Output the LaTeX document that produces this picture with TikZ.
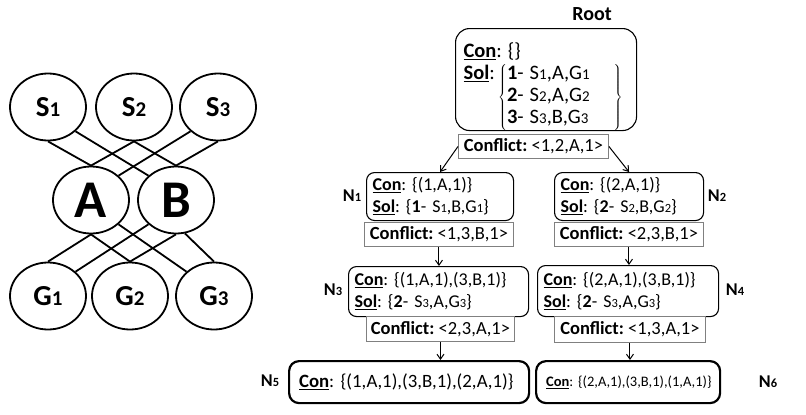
\documentclass[tikz,border=0pt]{standalone}
\usepackage{fontspec}
\setmainfont{Carlito}
\usetikzlibrary{shapes.geometric,arrows.meta}
\newcommand\sn[1]{{\fontsize{12.5}{12}\selectfont #1}}
\newcommand\snr[1]{{\fontsize{15}{12}\selectfont #1}}
\newcommand\sng[1]{{\fontsize{21}{20}\selectfont #1}}
\newcommand\kw[1]{\underline{\textbf{#1}}}
\begin{document}
\frenchspacing
\begin{tikzpicture}[x=1pt,y=-1pt,
  ell/.style={draw, ellipse, line width=1.8pt, minimum width=76pt, minimum height=67pt, inner sep=0pt, font=\fontsize{29}{29}\selectfont\bfseries},
  big/.style={font=\fontsize{53}{53}\selectfont\bfseries},
  link/.style={line width=1.8pt},
  tbox/.style={draw, rounded corners=8pt, line width=1.1pt, align=left, inner xsep=6pt, inner ysep=0pt, anchor=north west, font=\fontsize{18}{22}\selectfont},
  fbox/.style={tbox, line width=2.2pt, rounded corners=10pt},
  cbox/.style={draw=black!50, fill=white, line width=0.9pt, inner sep=0pt, anchor=north west, font=\fontsize{18.5}{22}\selectfont},
  lab/.style={font=\fontsize{18}{20}\selectfont\bfseries, inner sep=0pt},
  arr/.style={line width=1pt, -{Straight Barb[length=5pt,width=7pt]}}
]
\useasboundingbox (0,0) rectangle (806,415);
% left graph
\node[ell] (s1) at (48,107) {S\sng{1}};
\node[ell] (s2) at (134,107) {S\sng{2}};
\node[ell] (s3) at (218,107) {S\sng{3}};
\node[ell,big] (a) at (91,200) {A};
\node[ell,big] (b) at (176,200) {B};
\node[ell] (g1) at (48,296) {G\sng{1}};
\node[ell] (g2) at (130,296) {G\sng{2}};
\node[ell] (g3) at (214,296) {G\sng{3}};
\draw[link] (s1.south) -- (a.north);
\draw[link] (s1.south east) -- (b.north west);
\draw[link] (s2.south) -- (a.north);
\draw[link] (s2.south) -- (b.north);
\draw[link] (s3.south west) -- (a.north east);
\draw[link] (s3.south) -- (b.north);
\draw[link] (a.south) -- (g1.north);
\draw[link] (a.south) -- (g2.north);
\draw[link] (a.south east) -- (g3.north west);
\draw[link] (b.south west) -- (g1.north east);
\draw[link] (b.south) -- (g2.north);
\draw[link] (b.-75) -- (g3.north);
% tree
\node[font=\fontsize{20}{20}\selectfont\bfseries] (rootlab) at (592,14) {Root};
\node[tbox, rounded corners=14pt, inner xsep=8pt, text width=165pt, minimum height=102pt] (root) at (455,28)
 {\fontsize{20.5}{22}\selectfont\rule{0pt}{29pt}\kw{Con}: \{\}\\
  \kw{Sol}:\,\raisebox{-22.7pt}{$\left\{\begin{tabular}{@{}l@{}}\textbf{1}- S\snr{1},A,G\snr{1}\\ \textbf{2}- S\snr{2},A,G\snr{2}\\ \textbf{3}- S\snr{3},B,G\snr{3}\end{tabular}\hspace{24pt}\right\}$}};
\node[cbox, minimum width=150pt, minimum height=24pt] (cr) at (458,134) {\textbf{Conflict:} <1,2,A,1>};

\node[tbox, text width=135pt, minimum height=48pt] (n1) at (366,172) {\kw{Con}: \{(1,A,1)\}\\ \kw{Sol}: \{\textbf{1}- S\sn{1},B,G\sn{1}\}};
\node[lab] (n1lab) at (352,196) {N\sn{1}};
\node[cbox, minimum width=149pt, minimum height=24pt] (c1) at (364,222) {\textbf{Conflict:} <1,3,B,1>};

\node[tbox, text width=137pt, minimum height=48pt] (n2) at (554,172) {\kw{Con}: \{(2,A,1)\}\\ \kw{Sol}: \{\textbf{2}- S\sn{2},B,G\sn{2}\}};
\node[lab] (n2lab) at (717,196) {N\sn{2}};
\node[cbox, minimum width=149pt, minimum height=24pt] (c2) at (554,222) {\textbf{Conflict:} <2,3,B,1>};

\node[tbox, text width=168pt, minimum height=50pt] (n3) at (348,266) {\kw{Con}: \{(1,A,1),(3,B,1)\}\\ \kw{Sol}: \{\textbf{2}- S\sn{3},A,G\sn{3}\}};
\node[lab] (n3lab) at (333,290) {N\sn{3}};
\node[cbox, minimum width=148pt, minimum height=25pt] (c3) at (366,316) {\textbf{Conflict:} <2,3,A,1>};

\node[tbox, text width=169pt, minimum height=51pt] (n4) at (537,265) {\kw{Con}: \{(2,A,1),(3,B,1)\}\\ \kw{Sol}: \{\textbf{2}- S\sn{3},A,G\sn{3}\}};
\node[lab] (n4lab) at (735,290) {N\sn{4}};
\node[cbox, minimum width=151pt, minimum height=26pt] (c4) at (554,316) {\textbf{Conflict:} <1,3,A,1>};

\node[fbox, inner xsep=10pt, text width=220pt, minimum height=42pt, font=\fontsize{18.8}{22}\selectfont] (n5) at (288,360) {\kw{Con}: \{(1,A,1),(3,B,1),(2,A,1)\}};
\node[lab] (n5lab) at (270,381) {N\sn{5}};
\node[fbox, inner xsep=7pt, text width=170pt, minimum height=42pt, font=\fontsize{14.5}{18}\selectfont] (n6) at (535,360) {\hspace{3pt}\kw{Con}: \{(2,A,1),(3,B,1),(1,A,1)\}};
\node[lab] (n6lab) at (768,382) {N\sn{6}};

\draw[arr] (cr.west) -- (n1.north);
\draw[arr] (cr.east) -- (n2.north);
\draw[arr] (c1.south) -- (c1.south |- n3.north);
\draw[arr] (c2.south) -- (c2.south |- n4.north);
\draw[arr] (c3.south) -- (c3.south |- n5.north);
\draw[arr] (c4.south) -- (c4.south |- n6.north);
\end{tikzpicture}
\end{document}
